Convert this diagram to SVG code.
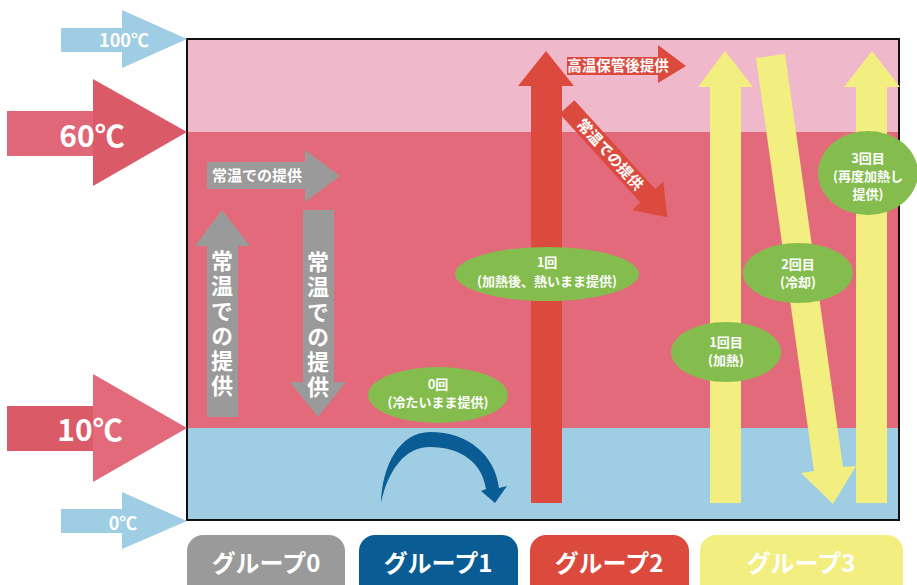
<svg xmlns="http://www.w3.org/2000/svg" width="917" height="585" viewBox="0 0 917 585">
<style>
.t{font-family:"Noto Sans CJK JP","Noto Sans",sans-serif;font-weight:bold;fill:#fff;text-anchor:middle}
.v{font-family:"Noto Sans CJK JP","Noto Sans",sans-serif;font-weight:bold;fill:#fff;writing-mode:vertical-rl;text-anchor:start;font-size:22px;letter-spacing:3px}
.lb{fill:#9FCDE3}
.gray{fill:#9A9A9A}
.red{fill:#DC4A3D}
.yel{fill:#F3EE80}
.grn{fill:#84BD4E}
</style>
<rect width="917" height="585" fill="#fff"/>
<g id="chart">
<rect x="187" y="39" width="712" height="93" fill="#F0B8CB"/>
<rect x="187" y="132" width="712" height="296" fill="#E36A7B"/>
<rect x="187" y="428" width="712" height="92" fill="#9FCDE3"/>
<rect x="187" y="39" width="712" height="481" fill="none" stroke="#111" stroke-width="2"/>
</g>
<g id="temp100">
<polygon class="lb" points="61,28 122,28 122,10 187,39 122,68 122,52 61,52"/>
<text class="t" x="124" y="47" font-size="18">100℃</text>
</g>
<g id="temp60">
<rect x="7" y="111" width="86" height="45" fill="#E06778"/>
<polygon points="93,79 187,132 93,186" fill="#DA5A68"/>
<text class="t" x="92" y="147" font-size="30">60℃</text>
</g>
<g id="temp10">
<rect x="7" y="406" width="86" height="45" fill="#DA5A68"/>
<polygon points="93,374 187,428 93,482" fill="#E36A7A"/>
<text class="t" x="90" y="441" font-size="30">10℃</text>
</g>
<g id="temp0">
<polygon class="lb" points="61,509 122,509 122,492 187,521 122,549 122,533 61,533"/>
<text class="t" x="123" y="530" font-size="18">0℃</text>
</g>
<g id="connectors">
<g id="gray-right">
<polygon class="gray" points="207,162 305,162 305,150 340,176 305,202 305,189 207,189"/>
<text class="t" x="257" y="181" font-size="15">常温での提供</text>
</g>
<g id="gray-up">
<polygon class="gray" points="207,417 207,246 195,246 222,210 250,246 238,246 238,417"/>
<text class="v" x="222" y="250">常温での提供</text>
</g>
<g id="gray-down">
<polygon class="gray" points="303,210 334,210 334,382 346,382 318,417 290,382 303,382"/>
<text class="v" x="318" y="251">常温での提供</text>
</g>
<g id="blue-curve">
<path fill="#0A5C94" d="M381,503 C382,465 400,432 430,432 C468,432 495,455 499,488 L507,486 L495,503 L481,491 L486,489 C482,462 460,447 430,447 C405,447 388,470 381,503 Z"/>
</g>
<g id="red-up">
<polygon class="red" points="531,503 531,86 518,86 546,51 574,86 562,86 562,503"/>
</g>
<g id="red-right">
<polygon class="red" points="567,57 658,57 658,45 686,66 658,83 658,75 567,75"/>
<text class="t" x="618" y="71" font-size="14.5">高温保管後提供</text>
</g>
<g id="red-diag" transform="translate(567,107) rotate(47.7)">
<polygon class="red" points="0,-10 120,-10 120,-21 149,0 120,21 120,10 0,10"/>
<text class="t" x="64" y="5.5" font-size="15">常温での提供</text>
</g>
<g id="yellow-up1">
<polygon class="yel" points="710,503 710,87 698,87 725,51 753,87 741,87 741,503"/>
</g>
<g id="yellow-diag">
<polygon class="yel" points="756,58 785,54 843,467 856,466 833,504 801,473 814,471"/>
</g>
<g id="yellow-up2">
<polygon class="yel" points="856,503 856,87 844,87 872,51 900,87 887,87 887,503"/>
</g>
</g>
<g id="n0">
<ellipse class="grn" cx="438" cy="395" rx="70" ry="28"/>
<text class="t" font-size="13"><tspan x="438" y="389">0回</tspan><tspan x="438" y="407">(冷たいまま提供)</tspan></text>
</g>
<g id="n1">
<ellipse class="grn" cx="547" cy="274" rx="92" ry="27"/>
<text class="t" font-size="13"><tspan x="547" y="267">1回</tspan><tspan x="547" y="286">(加熱後、熱いまま提供)</tspan></text>
</g>
<g id="n1b">
<ellipse class="grn" cx="726" cy="352" rx="55" ry="30"/>
<text class="t" font-size="13"><tspan x="726" y="347">1回目</tspan><tspan x="726" y="365">(加熱)</tspan></text>
</g>
<g id="n2b">
<ellipse class="grn" cx="798" cy="273" rx="55" ry="30"/>
<text class="t" font-size="13"><tspan x="798" y="269">2回目</tspan><tspan x="798" y="287">(冷却)</tspan></text>
</g>
<g id="n3b">
<ellipse class="grn" cx="868" cy="173" rx="50" ry="42"/>
<text class="t" font-size="13"><tspan x="868" y="163">3回目</tspan><tspan x="868" y="181">(再度加熱し</tspan><tspan x="868" y="199">提供)</tspan></text>
</g>
<g id="g0">
<rect class="gray" x="187" y="535" width="158" height="70" rx="16"/>
<text class="t" x="266" y="572" font-size="24">グループ0</text>
</g>
<g id="g1">
<rect x="359" y="535" width="159" height="70" rx="16" fill="#0A5C94"/>
<text class="t" x="438" y="572" font-size="24">グループ1</text>
</g>
<g id="g2">
<rect class="red" x="530" y="535" width="159" height="70" rx="16"/>
<text class="t" x="609" y="572" font-size="24">グループ2</text>
</g>
<g id="g3">
<rect class="yel" x="700" y="535" width="203" height="70" rx="16"/>
<text class="t" x="801" y="572" font-size="24">グループ3</text>
</g>
</svg>
